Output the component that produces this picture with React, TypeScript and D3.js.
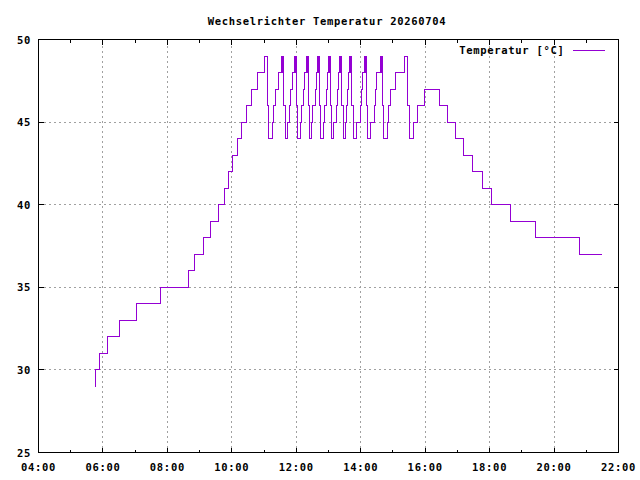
import React from "react";
import * as d3 from "d3";

// ---- data ----
const times: string[] = [
  "05:46","05:47","05:54","06:09","06:30","07:02","07:48","08:39","08:51","09:07",
  "09:21","09:36","09:46","09:54","10:02","10:10","10:18","10:28","10:37","10:47",
  "11:01","11:07","11:09",
  "11:16","11:18","11:21","11:26","11:32","11:33","11:34","11:36","11:39",
  "11:44","11:47","11:50","11:53","11:57","11:58","11:59","12:00","12:02",
  "12:07","12:10","12:13","12:16","12:19","12:20","12:21","12:22","12:24",
  "12:29","12:31","12:35","12:37","12:39","12:40","12:42","12:43","12:45",
  "12:50","12:53","12:56","12:58","13:00","13:01","13:02","13:03","13:05",
  "13:10","13:14","13:17","13:19","13:21","13:22","13:23","13:24","13:27",
  "13:31","13:34","13:36","13:38","13:40","13:41","13:42","13:43","13:47",
  "13:52","13:59","14:02","14:04","14:07","14:08","14:09","14:10","14:13",
  "14:19","14:25","14:27","14:29","14:36","14:37","14:38","14:40","14:42",
  "14:50","14:52","14:55","15:04","15:22","15:27","15:30",
  "15:39","15:46","15:58","16:27","16:41","16:57","17:11","17:29","17:47",
  "18:04","18:39","19:26","20:47","21:29",
];
const temps: number[] = [
  29,30,31,32,33,34,35,36,37,38,
  39,40,41,42,43,44,45,46,47,48,
  49,46,44,
  45,46,47,48,49,48,49,46,44,
  45,46,47,48,49,48,49,46,44,
  45,46,47,48,49,48,49,46,44,
  45,46,47,48,49,48,49,46,44,
  45,46,47,48,49,48,49,46,44,
  45,46,47,48,49,48,49,46,44,
  45,46,47,48,49,48,49,46,44,
  45,46,47,48,49,48,49,46,44,
  45,46,47,48,49,48,49,46,44,
  45,46,47,48,49,46,44,
  45,46,47,46,45,44,43,42,41,
  40,39,38,37,37,
];
const xTickLabels: string[] = ["04:00","06:00","08:00","10:00","12:00","14:00","16:00","18:00","20:00","22:00"];
const yTicks: number[] = [25, 30, 35, 40, 45, 50];
const title = "Wechselrichter Temperatur 20260704";
const seriesName = "Temperatur [°C]";

const toHours = (s: string) => {
  const [h, m] = s.split(":").map(Number);
  return h + m / 60;
};

export default function App() {
  const W = 640, H = 480;
  const left = 38.5, right = 618.5, top = 39.5, bottom = 452.5;
  const x = d3.scaleLinear().domain([4, 22]).range([left, right]);
  const y = d3.scaleLinear().domain([25, 50]).range([bottom, top]);
  const font = "'DejaVu Sans Mono', 'Liberation Mono', monospace";
  const color = "#9400d3";

  const data = times.map((t, i) => ({ t: toHours(t), v: temps[i] }));
  const line = d3
    .line<{ t: number; v: number }>()
    .x((d) => x(d.t))
    .y((d) => y(d.v))
    .curve(d3.curveStepAfter);

  const majorX = xTickLabels.map(toHours);
  const minorX = d3.range(5, 22, 2);
  const fontProps = {
    fontFamily: font,
    fontWeight: 700,
    fontSize: 10.5,
    letterSpacing: 0.7,
    fill: "#000",
  };

  return (
    <svg
      width={W}
      height={H}
      style={{ position: "absolute", left: 0, top: 0, background: "#fff" }}
    >
      <rect x={0} y={0} width={W} height={H} fill="#fff" />
      {/* grid */}
      <g stroke="#a0a0a0" strokeWidth={1} strokeDasharray="2,3" shapeRendering="crispEdges">
        {majorX.slice(1, -1).map((t) => (
          <line key={"gx" + t} x1={x(t)} x2={x(t)} y1={bottom} y2={top} />
        ))}
        {yTicks.slice(1, -1).map((v) => (
          <line key={"gy" + v} x1={left} x2={right} y1={y(v)} y2={y(v)} />
        ))}
      </g>
      {/* ticks */}
      <g stroke="#000" strokeWidth={1} shapeRendering="crispEdges">
        {majorX.map((t) => (
          <g key={"tx" + t}>
            <line x1={x(t)} x2={x(t)} y1={bottom} y2={bottom - 5} />
            <line x1={x(t)} x2={x(t)} y1={top} y2={top + 5} />
          </g>
        ))}
        {minorX.map((t) => (
          <g key={"mx" + t}>
            <line x1={x(t)} x2={x(t)} y1={bottom} y2={bottom - 3} />
            <line x1={x(t)} x2={x(t)} y1={top} y2={top + 3} />
          </g>
        ))}
        {yTicks.map((v) => (
          <g key={"ty" + v}>
            <line x1={left} x2={left + 5} y1={y(v)} y2={y(v)} />
            <line x1={right} x2={right - 5} y1={y(v)} y2={y(v)} />
          </g>
        ))}
      </g>
      {/* data */}
      <path
        d={line(data) || ""}
        fill="none"
        stroke={color}
        strokeWidth={1}
        shapeRendering="crispEdges"
      />
      {/* frame */}
      <rect
        x={left}
        y={top}
        width={right - left}
        height={bottom - top}
        fill="none"
        stroke="#000"
        strokeWidth={1}
        shapeRendering="crispEdges"
      />
      {/* tick labels */}
      {yTicks.map((v) => (
        <text key={"ly" + v} x={31} y={y(v) + 4} textAnchor="end" {...fontProps}>
          {v}
        </text>
      ))}
      {xTickLabels.map((s) => (
        <text key={"lx" + s} x={x(toHours(s))} y={471} textAnchor="middle" {...fontProps}>
          {s}
        </text>
      ))}
      {/* title */}
      <text x={327} y={25} textAnchor="middle" {...fontProps}>
        {title}
      </text>
      {/* legend */}
      <text x={564.5} y={54} textAnchor="end" {...fontProps}>
        {seriesName}
      </text>
      <line x1={572.5} x2={605} y1={50.5} y2={50.5} stroke={color} strokeWidth={1} shapeRendering="crispEdges" />
    </svg>
  );
}
